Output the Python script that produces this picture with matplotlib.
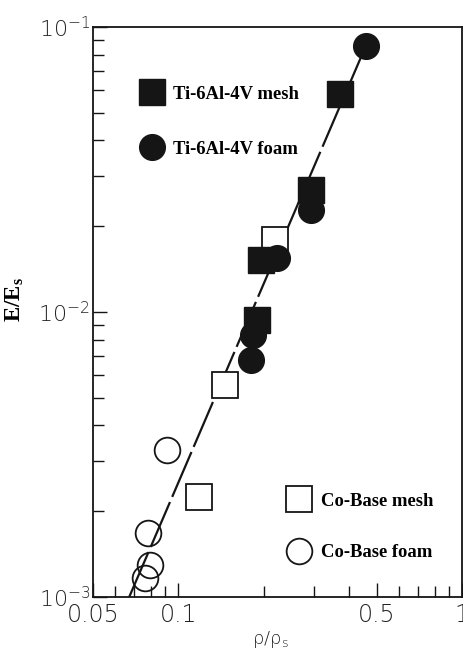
import numpy as np
import matplotlib
matplotlib.use("Agg")
import matplotlib.pyplot as plt
from matplotlib.ticker import FixedLocator, FixedFormatter, NullFormatter

plt.rcParams['font.family'] = ['DejaVu Sans']

# values (rho/rho_s , E/E_s)
ti_mesh_x = [0.371, 0.293, 0.195, 0.189]
ti_mesh_y = [0.0582, 0.0268, 0.0152, 0.0094]
ti_foam_x = [0.458, 0.293, 0.222, 0.184, 0.181]
ti_foam_y = [0.0858, 0.0228, 0.0155, 0.0083, 0.0068]
co_mesh_x = [0.220, 0.1466, 0.1186]
co_mesh_y = [0.0179, 0.00555, 0.00224]
co_foam_x = [0.091, 0.0783, 0.0796, 0.0765]
co_foam_y = [0.00328, 0.00168, 0.00129, 0.00117]
fit_x = [0.0671, 0.458]
fit_y = [0.001, 0.0858]

x_major = [0.05, 0.1, 0.5, 1]
x_major_labels = ['0.05', '0.1', '0.5', '1']
x_minor = [0.06, 0.07, 0.08, 0.09, 0.2, 0.3, 0.4, 0.6, 0.7, 0.8, 0.9]
y_major = [1e-3, 1e-2, 1e-1]
y_major_labels = [r'$\mathregular{10^{-3}}$', r'$\mathregular{10^{-2}}$', r'$\mathregular{10^{-1}}$']
y_minor = [m * d for d in (1e-3, 1e-2) for m in range(2, 10)]

fig = plt.figure(figsize=(4.64, 6.53), dpi=100)
fig.set_facecolor('white')
ax = fig.add_axes([0.2004, 0.0858, 0.7953, 0.8729])
ax.set_xscale('log')
ax.set_yscale('log')
ax.set_xlim(0.05, 1)
ax.set_ylim(1e-3, 1e-1)

ink = '#151515'
ax.plot(fit_x, fit_y, color=ink, lw=1.6, linestyle=(0, (22, 2.5)), zorder=1)

ms = 18.5
h_cm, = ax.plot(co_mesh_x, co_mesh_y, 's', ms=ms, mfc='white', mec=ink, mew=1.3, ls='none', zorder=2)
h_cf, = ax.plot(co_foam_x, co_foam_y, 'o', ms=ms, mfc='none', mec=ink, mew=1.3, ls='none', zorder=2)
h_tm, = ax.plot(ti_mesh_x, ti_mesh_y, 's', ms=ms, mfc=ink, mec=ink, mew=1, ls='none', zorder=3)
h_tf, = ax.plot(ti_foam_x, ti_foam_y, 'o', ms=ms, mfc=ink, mec=ink, mew=1, ls='none', zorder=3)

leg_font = {'family': ['Liberation Serif', 'DejaVu Serif'], 'weight': 'bold', 'size': 13.4}
leg1 = ax.legend([h_tm, h_tf], ['Ti-6Al-4V mesh', 'Ti-6Al-4V foam'], loc='upper left',
                 bbox_to_anchor=(0.13, 0.897), frameon=False, prop=leg_font,
                 handlelength=1.2, handletextpad=0.5, labelspacing=2.05,
                 borderpad=0, borderaxespad=0)
ax.add_artist(leg1)
ax.legend([h_cm, h_cf], ['Co-Base mesh', 'Co-Base foam'], loc='upper left',
          bbox_to_anchor=(0.528, 0.183), frameon=False, prop=leg_font,
          handlelength=1.2, handletextpad=0.6, labelspacing=1.85,
          borderpad=0, borderaxespad=0)

ax.xaxis.set_major_locator(FixedLocator(x_major))
ax.xaxis.set_major_formatter(FixedFormatter(x_major_labels))
ax.xaxis.set_minor_locator(FixedLocator(x_minor))
ax.xaxis.set_minor_formatter(NullFormatter())
ax.yaxis.set_major_locator(FixedLocator(y_major))
ax.yaxis.set_major_formatter(FixedFormatter(y_major_labels))
ax.yaxis.set_minor_locator(FixedLocator(y_minor))
ax.yaxis.set_minor_formatter(NullFormatter())

ax.tick_params(which='both', direction='in', color=ink, width=1.0)
ax.tick_params(which='major', length=10)
ax.tick_params(which='minor', length=8)
ax.tick_params(axis='x', pad=4, labelsize=17)
ax.tick_params(axis='y', pad=2, labelsize=16)
for lab in ax.get_xticklabels() + ax.get_yticklabels():
    lab.set_fontweight('light')
    lab.set_color('#222222')
for s in ax.spines.values():
    s.set_linewidth(1.3)
    s.set_color(ink)

ax.set_ylabel(r'$\mathregular{E/E_s}$', fontfamily=['Liberation Serif', 'DejaVu Serif'],
              fontweight='bold', fontsize=16.5)
ax.yaxis.set_label_coords(-0.182, 0.521)
ax.set_xlabel(r'ρ/ρ$\mathregular{_s}$', fontsize=13, fontweight='light', color='#222222')
ax.xaxis.set_label_coords(0.48, -0.056)

fig.savefig('out.png', dpi=100)
